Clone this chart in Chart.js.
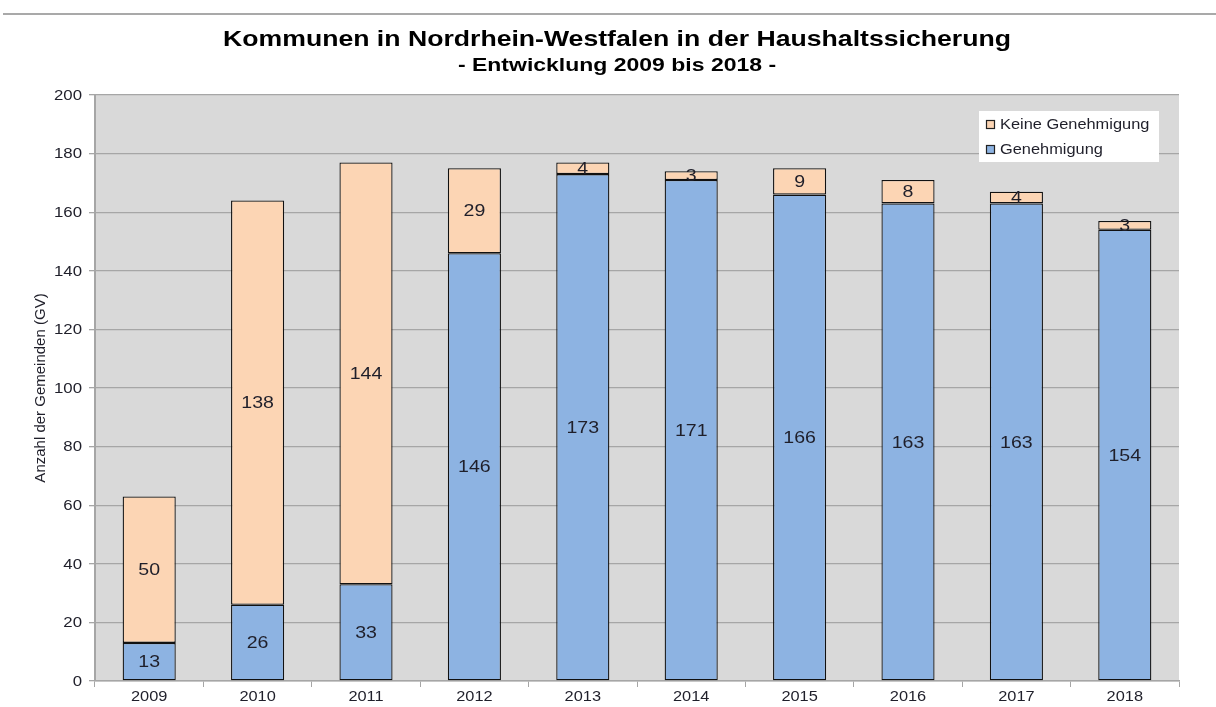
<!DOCTYPE html>
<html><head><meta charset="utf-8">
<script src="https://cdn.jsdelivr.net/npm/chart.js@4/dist/chart.umd.min.js"></script>
<style>html,body{margin:0;padding:0;background:#fff}#wrap{width:1216px;height:707px}</style>
</head><body><div id="wrap"><canvas id="c" width="1216" height="707"></canvas></div>
<script>
const years = ['2009','2010','2011','2012','2013','2014','2015','2016','2017','2018'];
const genehmigung = [13,26,33,146,173,171,166,163,163,154];
const keineGenehmigung = [50,138,144,29,4,3,9,8,4,3];
const titleText = 'Kommunen in Nordrhein-Westfalen in der Haushaltssicherung';
const subtitleText = '- Entwicklung 2009 bis 2018 -';
const yTitle = 'Anzahl der Gemeinden (GV)';
const FONT = '"Liberation Sans", Arial, sans-serif';
const TXT = '#1f1f2a';

function sText(ctx, text, x, y, font, align, sx, color) {
  ctx.save();
  ctx.font = font;
  ctx.fillStyle = color || TXT;
  ctx.textBaseline = 'middle';
  ctx.textAlign = align;
  ctx.translate(x, y);
  ctx.scale(sx, 1);
  ctx.fillText(text, 0, 0);
  ctx.restore();
}

const decor = {
  id: 'decor',
  beforeDraw(chart) {
    const {ctx, chartArea: a} = chart;
    ctx.save();
    ctx.fillStyle = '#ffffff';
    ctx.fillRect(0, 0, chart.width, chart.height);
    ctx.strokeStyle = '#8c8c8c';
    ctx.lineWidth = 1.5;
    ctx.beginPath(); ctx.moveTo(3, 14); ctx.lineTo(1216, 14); ctx.stroke();
    ctx.fillStyle = '#d9d9d9';
    ctx.fillRect(a.left, a.top, a.right - a.left, a.bottom - a.top);
    ctx.restore();
    sText(ctx, titleText, 617, 40, 'bold 22px ' + FONT, 'center', 1.21, '#000');
    sText(ctx, subtitleText, 617, 66, 'bold 19px ' + FONT, 'center', 1.21, '#000');
  },
  afterDraw(chart) {
    const {ctx} = chart;
    const ys = chart.scales.y, xs = chart.scales.x;
    ys.ticks.forEach(t => {
      sText(ctx, String(t.value), 82, ys.getPixelForValue(t.value) + 1, '14px ' + FONT, 'right', 1.2);
    });
    xs.ticks.forEach((t, i) => {
      sText(ctx, chart.data.labels[i], xs.getPixelForTick(i), 697, '14px ' + FONT, 'center', 1.17);
    });
  },
  afterDatasetsDraw(chart) {
    const {ctx} = chart;
    chart.data.datasets.forEach((ds, i) => {
      chart.getDatasetMeta(i).data.forEach((bar, j) => {
        const y = (bar.y + bar.base) / 2;
        sText(ctx, String(ds.data[j]), bar.x, y + 1, '17px ' + FONT, 'center', 1.15);
      });
    });
    // legend
    const lx = 979, ly = 111, lw = 180, lh = 51;
    ctx.save();
    ctx.fillStyle = '#ffffff';
    ctx.fillRect(lx, ly, lw, lh);
    const items = [1, 0];
    items.forEach((di, k) => {
      const ds = chart.data.datasets[di];
      const cy = ly + 13 + k * 25;
      ctx.fillStyle = ds.backgroundColor;
      ctx.fillRect(lx + 7, cy - 4, 8, 8);
      ctx.strokeStyle = '#222';
      ctx.lineWidth = 1.2;
      ctx.strokeRect(lx + 7.5, cy - 3.5, 8, 8);
      sText(ctx, ds.label, lx + 21, cy + 1, '14px ' + FONT, 'left', 1.17);
    });
    ctx.restore();
  }
};

new Chart(document.getElementById('c'), {
  type: 'bar',
  data: {
    labels: years,
    datasets: [
      { label: 'Genehmigung', data: genehmigung, backgroundColor: '#8db3e2', borderColor: '#111', borderWidth: 1.3, borderSkipped: false },
      { label: 'Keine Genehmigung', data: keineGenehmigung, backgroundColor: '#fcd5b4', borderColor: '#111', borderWidth: 1.3, borderSkipped: false }
    ]
  },
  options: {
    responsive: false,
    animation: false,
    devicePixelRatio: 1,
    layout: { padding: { left: 0, right: 37, top: 95, bottom: 0 } },
    datasets: { bar: { categoryPercentage: 1, barPercentage: 0.49 } },
    plugins: { legend: { display: false }, title: { display: false }, tooltip: { enabled: false } },
    scales: {
      x: {
        stacked: true,
        afterFit(s) { s.height = 26; },
        grid: { drawOnChartArea: false, drawTicks: true, tickLength: 6, color: '#a6a6a6', offset: true },
        border: { display: true, color: '#a6a6a6', width: 1.5 },
        ticks: { display: false }
      },
      y: {
        stacked: true,
        min: 0, max: 200,
        afterFit(s) { s.width = 95; },
        grid: { color: '#a6a6a6', lineWidth: 1.3, tickLength: 6 },
        border: { display: true, color: '#a6a6a6', width: 2 },
        ticks: { stepSize: 20, display: false },
        title: { display: true, text: yTitle, color: TXT, font: { family: FONT, size: 15 }, padding: { top: 32, bottom: 0 } }
      }
    }
  },
  plugins: [decor]
});
</script></body></html>
